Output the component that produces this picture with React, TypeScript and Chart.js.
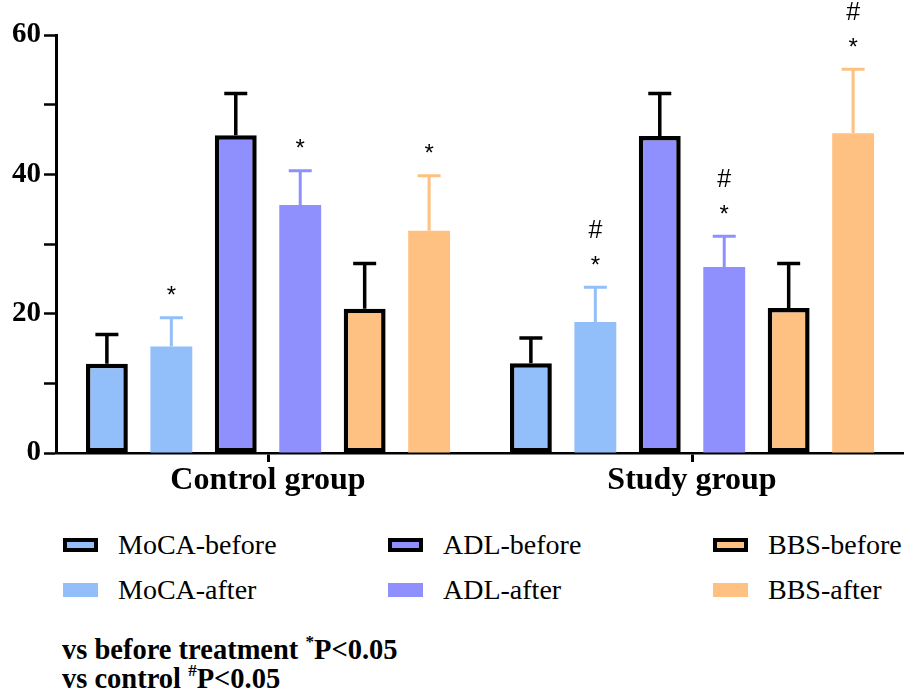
import React, { useEffect, useRef } from "react";
import { Chart, registerables } from "chart.js";

Chart.register(...registerables);

// ---------- data ----------
const groups = ["Control group", "Study group"];
const seriesNames = ["MoCA-before", "MoCA-after", "ADL-before", "ADL-after", "BBS-before", "BBS-after"];

const mocaBefore = [12.8, 12.9];
const mocaBeforeSd = [4.2, 3.6];
const mocaAfter = [15.3, 18.8];
const mocaAfterSd = [4.1, 5.0];
const adlBefore = [45.6, 45.5];
const adlBeforeSd = [6.0, 6.1];
const adlAfter = [35.6, 26.7];
const adlAfterSd = [4.9, 4.4];
const bbsBefore = [20.7, 20.8];
const bbsBeforeSd = [6.5, 6.4];
const bbsAfter = [31.9, 45.9];
const bbsAfterSd = [7.9, 9.2];

// significance marks: "*" vs before treatment, "#" vs control
const mocaBeforeSig = ["", ""];
const mocaAfterSig = ["*", "*#"];
const adlBeforeSig = ["", ""];
const adlAfterSig = ["*", "*#"];
const bbsBeforeSig = ["", ""];
const bbsAfterSig = ["*", "*#"];

const yTickLabels = [0, 20, 40, 60];

// ---------- styles ----------
const MOCA = "#92BFF9";
const ADL = "#8F8FFE";
const BBS = "#FFC182";
const SERIF = '"Liberation Serif", "Times New Roman", serif';
const SANS = '"Liberation Sans", Arial, sans-serif';

const seriesValues = [mocaBefore, mocaAfter, adlBefore, adlAfter, bbsBefore, bbsAfter];
const seriesSd = [mocaBeforeSd, mocaAfterSd, adlBeforeSd, adlAfterSd, bbsBeforeSd, bbsAfterSd];
const seriesSig = [mocaBeforeSig, mocaAfterSig, adlBeforeSig, adlAfterSig, bbsBeforeSig, bbsAfterSig];
const seriesColors = [MOCA, MOCA, ADL, ADL, BBS, BBS];
const seriesOutlined = [true, false, true, false, true, false];

const errorBarPlugin = {
  id: "errorBars",
  afterDatasetsDraw(chart: any) {
    const ctx = chart.ctx;
    const y = chart.scales.y;
    chart.data.datasets.forEach((ds: any, i: number) => {
      const meta = chart.getDatasetMeta(i);
      meta.data.forEach((bar: any, j: number) => {
        const v = ds.data[j];
        const top = y.getPixelForValue(v + ds.sd[j]);
        ctx.save();
        ctx.strokeStyle = ds.errColor;
        ctx.lineWidth = ds.errWidth;
        ctx.lineCap = "butt";
        ctx.beginPath();
        ctx.moveTo(bar.x, bar.y);
        ctx.lineTo(bar.x, top);
        ctx.moveTo(bar.x - 11.5, top);
        ctx.lineTo(bar.x + 11.5, top);
        ctx.stroke();
        const marks: string = ds.sig[j] || "";
        ctx.fillStyle = "#000";
        ctx.textAlign = "center";
        ctx.textBaseline = "middle";
        let cy = top - 28;
        for (const m of marks) {
          if (m === "*") {
            ctx.font = `24px ${SANS}`;
            ctx.fillText("*", bar.x, cy + 7);
          } else {
            ctx.font = `25px ${SANS}`;
            ctx.fillText("#", bar.x, cy);
          }
          cy -= 28;
        }
        ctx.restore();
      });
    });
  },
};

function BarChart() {
  const ref = useRef<HTMLCanvasElement | null>(null);
  useEffect(() => {
    if (!ref.current) return;
    const datasets = seriesNames.map((name, i) => ({
      label: name,
      data: seriesValues[i],
      sd: seriesSd[i],
      sig: seriesSig[i],
      backgroundColor: seriesColors[i],
      borderColor: "#000",
      borderWidth: seriesOutlined[i] ? 4.5 : 0,
      borderSkipped: false,
      errColor: seriesOutlined[i] ? "#000" : seriesColors[i],
      errWidth: seriesOutlined[i] ? 3.5 : 3,
      categoryPercentage: 0.912,
      barPercentage: 0.65,
    }));
    const chart = new Chart(ref.current, {
      type: "bar",
      data: { labels: groups, datasets: datasets as any },
      options: {
        animation: false,
        responsive: false,
        devicePixelRatio: 1,
        layout: { padding: { top: 35, left: 0, right: 0, bottom: 0 } },
        plugins: { legend: { display: false }, tooltip: { enabled: false } },
        scales: {
          x: {
            grid: {
              display: true,
              drawOnChartArea: false,
              drawTicks: true,
              offset: false,
              tickLength: 9,
              tickWidth: 3,
              tickColor: "#000",
            },
            border: { display: true, color: "#000", width: 2.5 },
            ticks: {
              color: "#000",
              padding: 0,
              font: { family: SERIF, size: 32, weight: "bold" },
            },
            afterFit: (s: any) => {
              s.height = 52;
            },
          },
          y: {
            min: 0,
            max: 60,
            grid: {
              display: true,
              drawOnChartArea: false,
              drawTicks: true,
              tickLength: 12,
              tickWidth: 2.5,
              tickColor: "#000",
            },
            border: { display: true, color: "#000", width: 3 },
            ticks: {
              stepSize: 10,
              color: "#000",
              padding: 3,
              font: { family: SERIF, size: 29, weight: "bold" },
              callback: (v: any) => (yTickLabels.includes(Number(v)) ? String(v) : ""),
            },
            afterFit: (s: any) => {
              s.width = 56;
            },
          },
        },
      },
      plugins: [errorBarPlugin],
    } as any);
    return () => chart.destroy();
  }, []);
  return (
    <canvas
      ref={ref}
      width={904}
      height={505}
      style={{ position: "absolute", left: 0, top: 0, width: 904, height: 505 }}
    />
  );
}

const legendColX = [63, 388, 713];
const legendRowY = [545, 590];

function Legend() {
  return (
    <>
      {seriesNames.map((name, i) => {
        const col = Math.floor(i / 2);
        const row = i % 2;
        const outlined = seriesOutlined[i];
        const cy = legendRowY[row];
        return (
          <div key={name}>
            <div
              style={{
                position: "absolute",
                left: legendColX[col],
                top: cy - 7,
                width: 35,
                height: 14,
                boxSizing: "border-box",
                background: seriesColors[i],
                border: outlined ? "4px solid #000" : "none",
              }}
            />
            <div
              style={{
                position: "absolute",
                left: legendColX[col] + 55,
                top: cy - 16,
                height: 32,
                lineHeight: "32px",
                fontFamily: SERIF,
                fontSize: 28,
                color: "#000",
                whiteSpace: "nowrap",
              }}
            >
              {name}
            </div>
          </div>
        );
      })}
    </>
  );
}

function Footnote() {
  const supStyle: React.CSSProperties = { fontSize: "0.6em", verticalAlign: "0.7em", lineHeight: 0 };
  return (
    <div
      style={{
        position: "absolute",
        left: 62,
        top: 635,
        fontFamily: SERIF,
        fontWeight: "bold",
        fontSize: 28.5,
        lineHeight: "29px",
        color: "#000",
        whiteSpace: "nowrap",
      }}
    >
      <div>
        vs before treatment <sup style={supStyle}>*</sup>P&lt;0.05
      </div>
      <div>
        vs control <sup style={supStyle}>#</sup>P&lt;0.05
      </div>
    </div>
  );
}

export default function App() {
  return (
    <div
      style={{
        position: "fixed",
        left: 0,
        top: 0,
        width: 904,
        height: 688,
        overflow: "hidden",
        background: "#fff",
      }}
    >
      <BarChart />
      <Legend />
      <Footnote />
    </div>
  );
}
